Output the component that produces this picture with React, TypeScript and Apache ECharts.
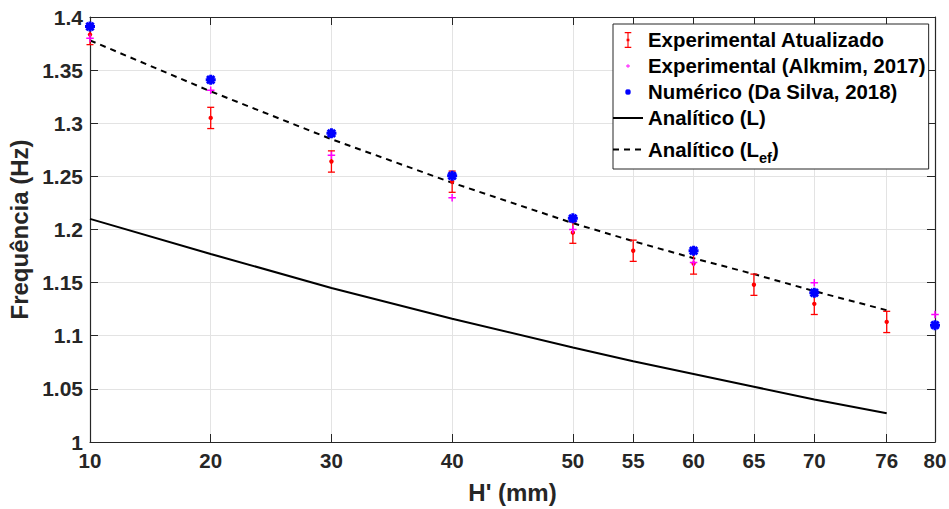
import React, { useEffect, useRef } from 'react';
import * as echarts from 'echarts';

// ---- data ----
const xTicks = [10, 20, 30, 40, 50, 55, 60, 65, 70, 76, 80];

const expX = [10, 20, 30, 40, 50, 55, 60, 65, 70, 76];
const expY = [1.3835, 1.305, 1.264, 1.245, 1.197, 1.18, 1.168, 1.148, 1.13, 1.113];
const expErr = [0.0095, 0.01, 0.01, 0.01, 0.01, 0.01, 0.01, 0.01, 0.01, 0.01];

const alkX = [10, 20, 30, 40, 50, 60, 70, 80];
const alkY = [1.38, 1.331, 1.27, 1.23, 1.2, 1.169, 1.15, 1.12];

const numX = [10, 20, 30, 40, 50, 60, 70, 80];
const numY = [1.391, 1.341, 1.2905, 1.2505, 1.2105, 1.18, 1.1405, 1.11];

const anaX = [10, 20, 30, 40, 50, 55, 60, 65, 70, 76];
const anaL = [1.21, 1.177, 1.145, 1.116, 1.089, 1.076, 1.064, 1.052, 1.04, 1.027];
const anaLef = [1.378, 1.33, 1.285, 1.244, 1.206, 1.189, 1.173, 1.158, 1.142, 1.124];

const NAME_EXP = 'Experimental Atualizado';
const NAME_ALK = 'Experimental (Alkmim, 2017)';
const NAME_NUM = 'Numérico (Da Silva, 2018)';
const NAME_L = 'Analítico (L)';
const NAME_LEF = 'Analítico (Lef)';

// ---- symbols ----
const STAR_D =
  'M3.5 0H6.5V10H3.5Z M0 3.5H10V6.5H0Z M0.3 2.3L2.3 0.3L9.7 7.7L7.7 9.7Z M7.7 0.3L9.7 2.3L2.3 9.7L0.3 7.7Z';
const PLUS_D = 'M3.2 0H4.8V8H3.2Z M0 3.2H8V4.8H0Z';
const STAR = 'path://' + STAR_D;
const PLUS = 'path://' + PLUS_D;
const STAR_LEG = 'path://M-9 -9 M19 19 ' + STAR_D;
const PLUS_LEG = 'path://M-12 -12 M20 20 ' + PLUS_D;
const ERR_LEG = 'path://M0 0H7V1.2H0Z M2.9 0H4.1V17H2.9Z M0 15.8H7V17H0Z M2 7.3H5V9.7H2Z';
const LINE_LEG = 'path://M0 7H30V9H0Z M0 0 M30 16';
const DASH_LEG = 'path://M0 7H6V9H0Z M11 7H17V9H11Z M22 7H28V9H22Z M0 0 M30 16';

const FONT = "'Liberation Sans', Arial, Helvetica, sans-serif";
const AXIS_COLOR = '#262626';
const GRID_COLOR = '#e3e3e3';

export default function App() {
  const ref = useRef<HTMLDivElement>(null);

  useEffect(() => {
    if (!ref.current) return;
    const chart = echarts.init(ref.current, undefined, { renderer: 'svg' });

    const pair = (xs: number[], ys: number[]) => xs.map((x, i) => [x, ys[i]]);

    const option: any = {
      animation: false,
      backgroundColor: '#ffffff',
      grid: {
        left: 90,
        right: 14,
        top: 17,
        bottom: 67,
        containLabel: false,
        outerBoundsMode: 'none',
      },
      legend: {
        orient: 'vertical',
        left: 613,
        top: 24,
        padding: [6, 3, 4, 0],
        itemGap: 6,
        itemWidth: 30,
        itemHeight: 16,
        backgroundColor: '#ffffff',
        borderColor: AXIS_COLOR,
        borderWidth: 1,
        borderRadius: 0,
        textStyle: {
          fontFamily: FONT,
          fontSize: 20.4,
          fontWeight: 'bold',
          color: '#000000',
          lineHeight: 20,
          rich: {
            sub: {
              fontFamily: FONT,
              fontSize: 14.5,
              fontWeight: 'bold',
              color: '#000000',
              lineHeight: 14,
              padding: [16, 0, 0, 0],
            },
          },
        },
        formatter: (name: string) => (name === NAME_LEF ? 'Analítico (L{sub|ef})' : name),
        data: [
          { name: NAME_EXP, icon: ERR_LEG },
          { name: NAME_ALK, icon: PLUS_LEG },
          { name: NAME_NUM, icon: STAR_LEG },
          { name: NAME_L, icon: LINE_LEG },
          { name: NAME_LEF, icon: DASH_LEG },
        ],
      },
      xAxis: [
        {
          type: 'value',
          min: 10,
          max: 80,
          position: 'bottom',
          name: "H' (mm)",
          nameLocation: 'middle',
          nameGap: 38,
          nameTextStyle: { fontFamily: FONT, fontSize: 24, fontWeight: 'bold', color: '#262626' },
          axisLine: { show: true, onZero: false, lineStyle: { color: AXIS_COLOR, width: 1.2 } },
          axisTick: { show: true, inside: true, length: 8, customValues: xTicks, lineStyle: { color: AXIS_COLOR } },
          axisLabel: {
            customValues: xTicks,
            margin: 8,
            fontFamily: FONT,
            fontSize: 20.5,
            fontWeight: 'bold',
            color: '#262626',
          },
          splitLine: { show: true, lineStyle: { color: GRID_COLOR, width: 1 } },
        },
        {
          type: 'value',
          min: 10,
          max: 80,
          position: 'top',
          axisLine: { show: true, onZero: false, lineStyle: { color: AXIS_COLOR, width: 1.2 } },
          axisTick: { show: true, inside: true, length: 8, customValues: xTicks, lineStyle: { color: AXIS_COLOR } },
          axisLabel: { show: false, customValues: xTicks },
          splitLine: { show: false },
        },
      ],
      yAxis: [
        {
          type: 'value',
          min: 1,
          max: 1.4,
          interval: 0.05,
          position: 'left',
          name: 'Frequência (Hz)',
          nameLocation: 'middle',
          nameGap: 52,
          nameTextStyle: { fontFamily: FONT, fontSize: 24, fontWeight: 'bold', color: '#262626' },
          axisLine: { show: true, onZero: false, lineStyle: { color: AXIS_COLOR, width: 1.2 } },
          axisTick: { show: true, inside: true, length: 8, lineStyle: { color: AXIS_COLOR } },
          axisLabel: {
            margin: 7,
            fontFamily: FONT,
            fontSize: 21,
            fontWeight: 'bold',
            color: '#262626',
          },
          splitLine: { show: true, lineStyle: { color: GRID_COLOR, width: 1 } },
        },
        {
          type: 'value',
          min: 1,
          max: 1.4,
          interval: 0.05,
          position: 'right',
          axisLine: { show: true, onZero: false, lineStyle: { color: AXIS_COLOR, width: 1.2 } },
          axisTick: { show: true, inside: true, length: 8, lineStyle: { color: AXIS_COLOR } },
          axisLabel: { show: false },
          splitLine: { show: false },
        },
      ],
      series: [
        {
          name: NAME_L,
          type: 'line',
          xAxisIndex: 0,
          yAxisIndex: 0,
          data: pair(anaX, anaL),
          symbol: 'none',
          smooth: false,
          lineStyle: { color: '#000000', width: 2, type: 'solid' },
          itemStyle: { color: '#000000' },
          z: 3,
        },
        {
          name: NAME_LEF,
          type: 'line',
          xAxisIndex: 0,
          yAxisIndex: 0,
          data: pair(anaX, anaLef),
          symbol: 'none',
          smooth: false,
          lineStyle: { color: '#000000', width: 2, type: [6, 5] },
          itemStyle: { color: '#000000' },
          z: 3,
        },
        {
          name: NAME_EXP,
          type: 'custom',
          xAxisIndex: 0,
          yAxisIndex: 0,
          data: expX.map((x, i) => [x, expY[i], expErr[i]]),
          encode: { x: 0, y: 1 },
          itemStyle: { color: '#ff0000' },
          z: 4,
          renderItem: (_params: any, api: any) => {
            const x = api.value(0);
            const y = api.value(1);
            const e = api.value(2);
            const top = api.coord([x, y + e]);
            const bot = api.coord([x, y - e]);
            const mid = api.coord([x, y]);
            const hw = 3.5;
            const st = { stroke: '#ff0000', lineWidth: 1.3, fill: null };
            return {
              type: 'group',
              children: [
                { type: 'line', shape: { x1: top[0], y1: top[1], x2: bot[0], y2: bot[1] }, style: st },
                { type: 'line', shape: { x1: top[0] - hw, y1: top[1], x2: top[0] + hw, y2: top[1] }, style: st },
                { type: 'line', shape: { x1: bot[0] - hw, y1: bot[1], x2: bot[0] + hw, y2: bot[1] }, style: st },
                { type: 'circle', shape: { cx: mid[0], cy: mid[1], r: 2.2 }, style: { fill: '#ff0000' } },
              ],
            };
          },
        },
        {
          name: NAME_ALK,
          type: 'scatter',
          xAxisIndex: 0,
          yAxisIndex: 0,
          data: pair(alkX, alkY),
          symbol: PLUS,
          symbolSize: 7.5,
          itemStyle: { color: '#ff00ff', opacity: 1 },
          z: 5,
        },
        {
          name: NAME_NUM,
          type: 'scatter',
          xAxisIndex: 0,
          yAxisIndex: 0,
          data: pair(numX, numY),
          symbol: STAR,
          symbolSize: 10,
          itemStyle: { color: '#0000ff', opacity: 1 },
          clip: false,
          z: 6,
        },
      ],
    };

    chart.setOption(option);
    return () => {
      chart.dispose();
    };
  }, []);

  return (
    <div
      ref={ref}
      style={{ position: 'fixed', left: 0, top: 0, width: 949, height: 509, background: '#ffffff' }}
    />
  );
}
